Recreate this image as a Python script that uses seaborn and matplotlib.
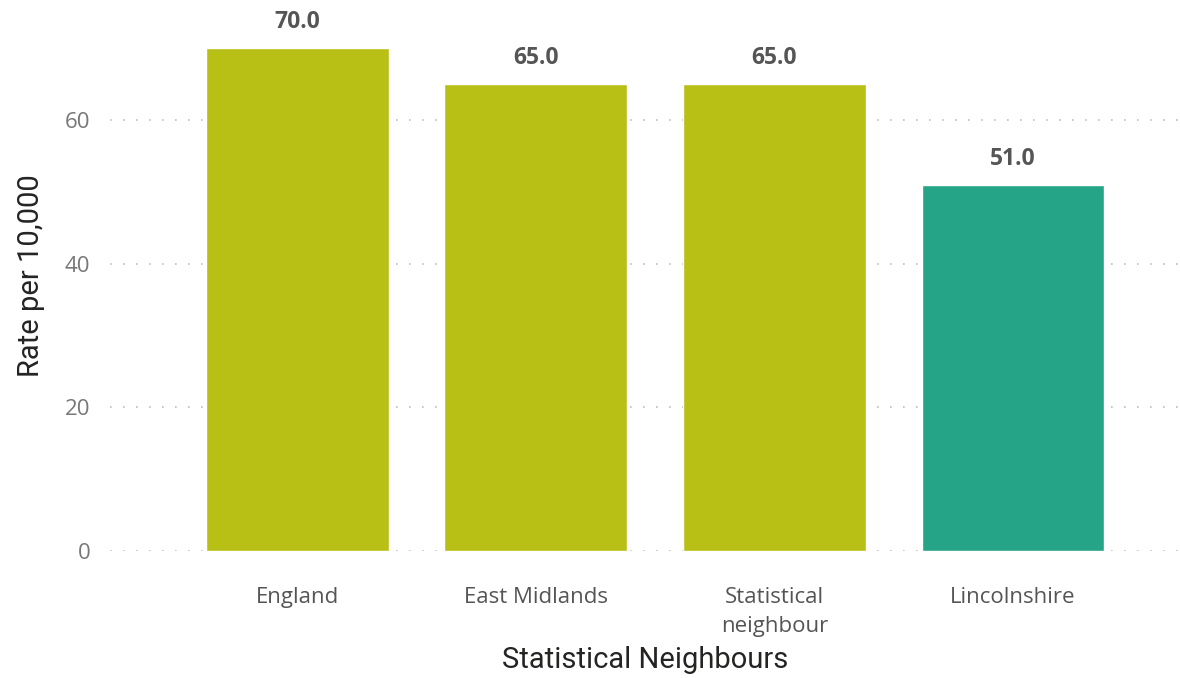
import matplotlib
matplotlib.use("Agg")
import matplotlib.pyplot as plt
import seaborn as sns
import pandas as pd

# datos del gráfico
areas = ["England", "East Midlands", "Statistical\nneighbour", "Lincolnshire"]
rates = [70.0, 65.0, 65.0, 51.0]
colores = ["#B8BF15", "#B8BF15", "#B8BF15", "#26A487"]
yticks = [0, 20, 40, 60]

df = pd.DataFrame({"area": areas, "rate": rates})

sns.set_theme(style="white")
plt.rcParams["font.family"] = ["Open Sans", "DejaVu Sans"]

fig = plt.figure(figsize=(11.8, 6.78), dpi=100)
ax = fig.add_axes([0.093, 0.187, 0.907, 0.813])

sns.barplot(data=df, x="area", y="rate", hue="area", palette=colores,
            legend=False, width=0.767, ax=ax, saturation=1)

for cont in ax.containers:
    ax.bar_label(cont, fmt="%.1f", padding=10, fontsize=16.5,
                 fontweight="bold", color="#555555")

ax.set_ylim(0, 76.7)
ax.set_xlim(-0.786, 3.70)
ax.set_yticks(yticks)
ax.yaxis.grid(True, linestyle=(0, (1, 6.8)), linewidth=1.2, color="#BDBDBD")
ax.set_axisbelow(True)
for s in ax.spines.values():
    s.set_visible(False)

ax.tick_params(axis="y", labelsize=16, colors="#777777", length=0, pad=14)
ax.tick_params(axis="x", labelsize=16, colors="#555555", length=0, pad=26)
for t in ax.get_xticklabels():
    t.set_linespacing(1.5)

ax.set_xlabel("Statistical Neighbours", fontsize=21, color="#252423", labelpad=6,
              family=["Roboto", "DejaVu Sans"])
ax.set_ylabel("Rate per 10,000", fontsize=21, color="#252423", labelpad=14,
              family=["Roboto", "DejaVu Sans"])

fig.savefig("out.png", dpi=100)
